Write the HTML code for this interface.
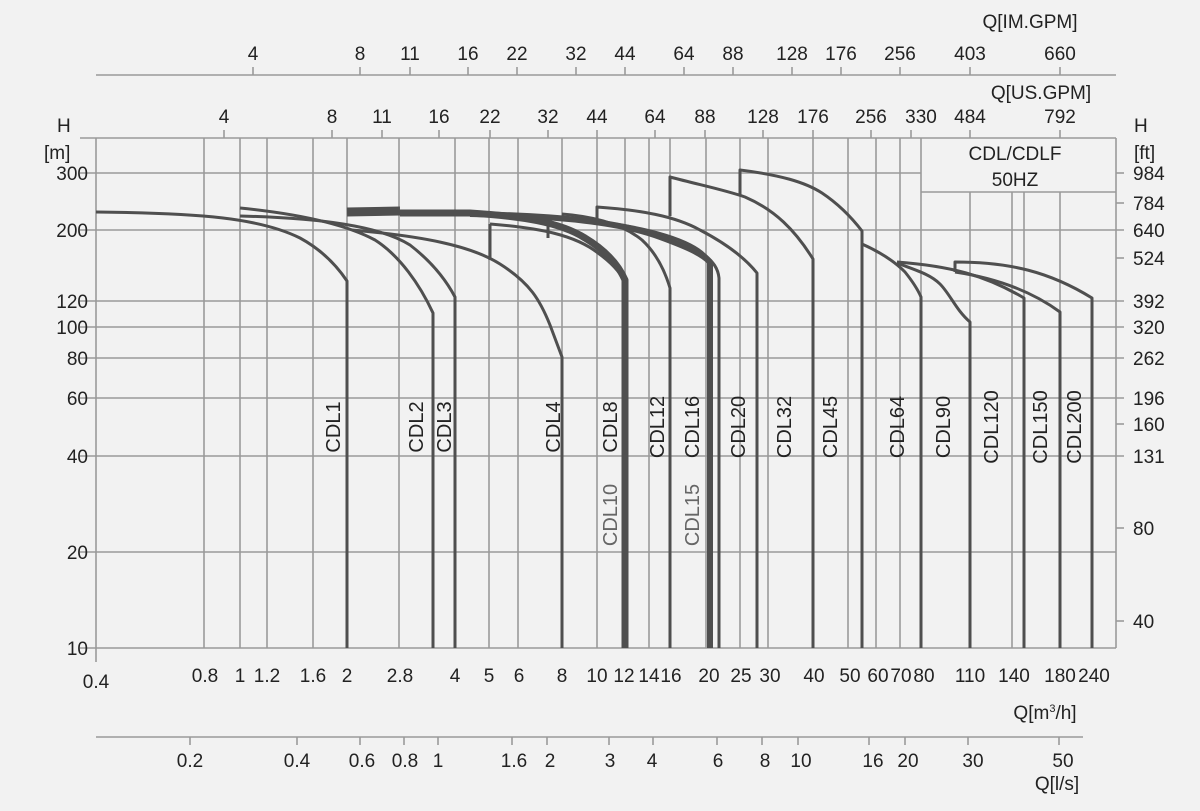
<!DOCTYPE html>
<html><head><meta charset="utf-8"><style>
html,body{margin:0;padding:0;background:#f2f2f2;}
svg{display:block;font-family:"Liberation Sans",sans-serif;}
</style></head><body>
<svg width="1200" height="811" viewBox="0 0 1200 811">
<rect width="1200" height="811" fill="#f2f2f2"/>
<g stroke="#9a9a9a" stroke-width="1.6" fill="none">
<line x1="80" y1="138" x2="1116" y2="138"/>
<line x1="80" y1="173" x2="921" y2="173"/>
<line x1="921" y1="192" x2="1116" y2="192"/>
<line x1="80" y1="230" x2="1124" y2="230"/>
<line x1="80" y1="301" x2="1124" y2="301"/>
<line x1="80" y1="327" x2="1124" y2="327"/>
<line x1="80" y1="358" x2="1124" y2="358"/>
<line x1="80" y1="398" x2="1124" y2="398"/>
<line x1="80" y1="456" x2="1124" y2="456"/>
<line x1="80" y1="552" x2="1116" y2="552"/>
<line x1="80" y1="648" x2="1116" y2="648"/>
<line x1="1116" y1="173" x2="1124" y2="173"/>
<line x1="1116" y1="203" x2="1124" y2="203"/>
<line x1="1116" y1="258" x2="1124" y2="258"/>
<line x1="1116" y1="424" x2="1124" y2="424"/>
<line x1="1116" y1="528" x2="1124" y2="528"/>
<line x1="1116" y1="621" x2="1124" y2="621"/>
<line x1="96" y1="138" x2="96" y2="662"/>
<line x1="204" y1="138" x2="204" y2="648"/>
<line x1="240" y1="138" x2="240" y2="648"/>
<line x1="267" y1="138" x2="267" y2="648"/>
<line x1="313" y1="138" x2="313" y2="648"/>
<line x1="347" y1="138" x2="347" y2="648"/>
<line x1="399" y1="138" x2="399" y2="648"/>
<line x1="455" y1="138" x2="455" y2="648"/>
<line x1="489" y1="138" x2="489" y2="648"/>
<line x1="518" y1="138" x2="518" y2="648"/>
<line x1="562" y1="138" x2="562" y2="648"/>
<line x1="597" y1="138" x2="597" y2="648"/>
<line x1="625" y1="138" x2="625" y2="648"/>
<line x1="649" y1="138" x2="649" y2="648"/>
<line x1="670" y1="138" x2="670" y2="648"/>
<line x1="706" y1="138" x2="706" y2="648"/>
<line x1="740" y1="138" x2="740" y2="648"/>
<line x1="768" y1="138" x2="768" y2="648"/>
<line x1="813" y1="138" x2="813" y2="648"/>
<line x1="848" y1="138" x2="848" y2="648"/>
<line x1="876" y1="138" x2="876" y2="648"/>
<line x1="900" y1="138" x2="900" y2="648"/>
<line x1="921" y1="138" x2="921" y2="648"/>
<line x1="970" y1="192" x2="970" y2="648"/>
<line x1="1012" y1="192" x2="1012" y2="648"/>
<line x1="1024" y1="192" x2="1024" y2="648"/>
<line x1="1060" y1="192" x2="1060" y2="648"/>
<line x1="1116" y1="138" x2="1116" y2="648"/>
<g>
<line x1="224" y1="130" x2="224" y2="138"/><line x1="332" y1="130" x2="332" y2="138"/><line x1="382" y1="130" x2="382" y2="138"/><line x1="439" y1="130" x2="439" y2="138"/><line x1="490" y1="130" x2="490" y2="138"/><line x1="548" y1="130" x2="548" y2="138"/><line x1="597" y1="130" x2="597" y2="138"/><line x1="655" y1="130" x2="655" y2="138"/><line x1="705" y1="130" x2="705" y2="138"/><line x1="763" y1="130" x2="763" y2="138"/><line x1="813" y1="130" x2="813" y2="138"/><line x1="871" y1="130" x2="871" y2="138"/><line x1="911" y1="130" x2="911" y2="138"/><line x1="970" y1="130" x2="970" y2="138"/><line x1="1060" y1="130" x2="1060" y2="138"/>
</g>
<line x1="96" y1="75" x2="1116" y2="75"/>
<line x1="253" y1="67" x2="253" y2="75"/><line x1="360" y1="67" x2="360" y2="75"/><line x1="410" y1="67" x2="410" y2="75"/><line x1="468" y1="67" x2="468" y2="75"/><line x1="517" y1="67" x2="517" y2="75"/><line x1="576" y1="67" x2="576" y2="75"/><line x1="625" y1="67" x2="625" y2="75"/><line x1="684" y1="67" x2="684" y2="75"/><line x1="733" y1="67" x2="733" y2="75"/><line x1="792" y1="67" x2="792" y2="75"/><line x1="841" y1="67" x2="841" y2="75"/><line x1="900" y1="67" x2="900" y2="75"/><line x1="970" y1="67" x2="970" y2="75"/><line x1="1060" y1="67" x2="1060" y2="75"/>
<line x1="96" y1="737" x2="1083" y2="737"/>
<line x1="190" y1="737" x2="190" y2="745"/><line x1="297" y1="737" x2="297" y2="745"/><line x1="360" y1="737" x2="360" y2="745"/><line x1="404" y1="737" x2="404" y2="745"/><line x1="438" y1="737" x2="438" y2="745"/><line x1="512" y1="737" x2="512" y2="745"/><line x1="547" y1="737" x2="547" y2="745"/><line x1="609" y1="737" x2="609" y2="745"/><line x1="653" y1="737" x2="653" y2="745"/><line x1="717" y1="737" x2="717" y2="745"/><line x1="762" y1="737" x2="762" y2="745"/><line x1="798" y1="737" x2="798" y2="745"/><line x1="869" y1="737" x2="869" y2="745"/><line x1="905" y1="737" x2="905" y2="745"/><line x1="968" y1="737" x2="968" y2="745"/><line x1="1059" y1="737" x2="1059" y2="745"/>
</g>

<g stroke="#4f4f4f" stroke-width="3" fill="none" stroke-linejoin="round">
<path d="M96,212 C200,213 260,218 300,238 C322,250 337,266 347,281 L347,648"/>
<path d="M240,208 C300,214 345,224 375,240 C400,256 420,285 433,313 L433,648"/>
<path d="M240,216 C320,218 380,226 410,245 C432,262 446,280 455,297 L455,648"/>
<path d="M352,230 C420,236 470,245 500,264 C530,283 540,300 550,325 L562,357 L562,648"/>
<path d="M490,224 L490,260"/>
<path d="M347,212 L400,211" stroke-width="9"/>
<path d="M400,213 L470,213 C520,216 560,222 585,238 C605,250 618,264 625,280 L625,648" stroke-width="7"/>
<path d="M490,224 C540,228 575,235 598,253 C612,263 620,272 625,282"/>
<path d="M548,225 L548,238" />
<path d="M562,214 C600,217 625,226 642,240 C655,252 664,268 670,288 L670,648"/>
<path d="M470,214 C560,216 620,222 660,237 C690,248 702,254 710,262 L710,648" stroke-width="6"/>
<path d="M600,222 C650,228 690,240 705,255 C713,262 718,268 719,278 L719,648"/>
<path d="M597,220 L597,207 C640,210 675,216 700,230 C725,243 745,258 757,273 L757,648"/>
<path d="M670,216 L670,177 C700,185 725,190 745,197 C775,210 795,230 813,259 L813,648"/>
<path d="M740,195 L740,170 C780,175 805,182 822,193 C840,205 852,218 862,231 L862,648"/>
<path d="M862,244 C880,252 895,262 905,272 C913,282 918,290 921,297 L921,648"/>
<path d="M897,263 C915,270 930,274 940,284 C950,294 956,310 970,322 L970,648"/>
<path d="M897,262 C950,266 985,275 1024,298 L1024,648"/>
<path d="M955,272 C995,278 1030,290 1060,312 L1060,648"/>
<path d="M955,272 L955,262 C1010,262 1050,272 1092,298 L1092,648"/>
</g>

<g fill="#222" font-size="19">
<text x="1030" y="28" text-anchor="middle">Q[IM.GPM]</text>
<text x="1041" y="99" text-anchor="middle">Q[US.GPM]</text>
<g text-anchor="middle">
<text x="253" y="60">4</text><text x="360" y="60">8</text><text x="410" y="60">11</text><text x="468" y="60">16</text><text x="517" y="60">22</text><text x="576" y="60">32</text><text x="625" y="60">44</text><text x="684" y="60">64</text><text x="733" y="60">88</text><text x="792" y="60">128</text><text x="841" y="60">176</text><text x="900" y="60">256</text><text x="970" y="60">403</text><text x="1060" y="60">660</text>
<text x="224" y="123">4</text><text x="332" y="123">8</text><text x="382" y="123">11</text><text x="439" y="123">16</text><text x="490" y="123">22</text><text x="548" y="123">32</text><text x="597" y="123">44</text><text x="655" y="123">64</text><text x="705" y="123">88</text><text x="763" y="123">128</text><text x="813" y="123">176</text><text x="871" y="123">256</text><text x="921" y="123">330</text><text x="970" y="123">484</text><text x="1060" y="123">792</text>
<text x="1015" y="160">CDL/CDLF</text>
<text x="1015" y="186">50HZ</text>
</g>
<text x="57" y="132">H</text>
<text x="44" y="159">[m]</text>
<text x="1134" y="132">H</text>
<text x="1134" y="159">[ft]</text>
<g text-anchor="end">
<text x="88" y="180">300</text><text x="88" y="237">200</text><text x="88" y="308">120</text><text x="88" y="334">100</text><text x="88" y="365">80</text><text x="88" y="405">60</text><text x="88" y="463">40</text><text x="88" y="559">20</text><text x="88" y="655">10</text>
</g>
<g>
<text x="1133" y="180">984</text><text x="1133" y="210">784</text><text x="1133" y="237">640</text><text x="1133" y="265">524</text><text x="1133" y="308">392</text><text x="1133" y="334">320</text><text x="1133" y="365">262</text><text x="1133" y="405">196</text><text x="1133" y="431">160</text><text x="1133" y="463">131</text><text x="1133" y="535">80</text><text x="1133" y="628">40</text>
</g>
<g text-anchor="middle">
<text x="96" y="688">0.4</text><text x="205" y="682">0.8</text><text x="240" y="682">1</text><text x="267" y="682">1.2</text><text x="313" y="682">1.6</text><text x="347" y="682">2</text><text x="400" y="682">2.8</text><text x="455" y="682">4</text><text x="489" y="682">5</text><text x="519" y="682">6</text><text x="562" y="682">8</text><text x="597" y="682">10</text><text x="624" y="682">12</text><text x="649" y="682">14</text><text x="671" y="682">16</text><text x="709" y="682">20</text><text x="741" y="682">25</text><text x="770" y="682">30</text><text x="814" y="682">40</text><text x="850" y="682">50</text><text x="878" y="682">60</text><text x="901" y="682">70</text><text x="924" y="682">80</text><text x="970" y="682">110</text><text x="1014" y="682">140</text><text x="1060" y="682">180</text><text x="1094" y="682">240</text>
<text x="190" y="767">0.2</text><text x="297" y="767">0.4</text><text x="362" y="767">0.6</text><text x="405" y="767">0.8</text><text x="438" y="767">1</text><text x="514" y="767">1.6</text><text x="550" y="767">2</text><text x="610" y="767">3</text><text x="652" y="767">4</text><text x="718" y="767">6</text><text x="765" y="767">8</text><text x="801" y="767">10</text><text x="873" y="767">16</text><text x="908" y="767">20</text><text x="973" y="767">30</text><text x="1063" y="767">50</text>
</g>
<text x="1045" y="719" text-anchor="middle">Q[m<tspan font-size="11" dy="-7">3</tspan><tspan dy="7">/h]</tspan></text>
<text x="1057" y="790" text-anchor="middle">Q[l/s]</text>
<g text-anchor="middle" font-size="20">
<text transform="translate(340,427) rotate(-90)">CDL1</text>
<text transform="translate(423,427) rotate(-90)">CDL2</text>
<text transform="translate(451,427) rotate(-90)">CDL3</text>
<text transform="translate(560,427) rotate(-90)">CDL4</text>
<text transform="translate(617,427) rotate(-90)">CDL8</text>
<text transform="translate(664,427) rotate(-90)">CDL12</text>
<text transform="translate(699,427) rotate(-90)">CDL16</text>
<text transform="translate(745,427) rotate(-90)">CDL20</text>
<text transform="translate(791,427) rotate(-90)">CDL32</text>
<text transform="translate(837,427) rotate(-90)">CDL45</text>
<text transform="translate(904,427) rotate(-90)">CDL64</text>
<text transform="translate(950,427) rotate(-90)">CDL90</text>
<text transform="translate(998,427) rotate(-90)">CDL120</text>
<text transform="translate(1047,427) rotate(-90)">CDL150</text>
<text transform="translate(1081,427) rotate(-90)">CDL200</text>
<text transform="translate(617,515) rotate(-90)" fill="#666">CDL10</text>
<text transform="translate(699,515) rotate(-90)" fill="#666">CDL15</text>
</g>
</g>
</svg>
</body></html>
